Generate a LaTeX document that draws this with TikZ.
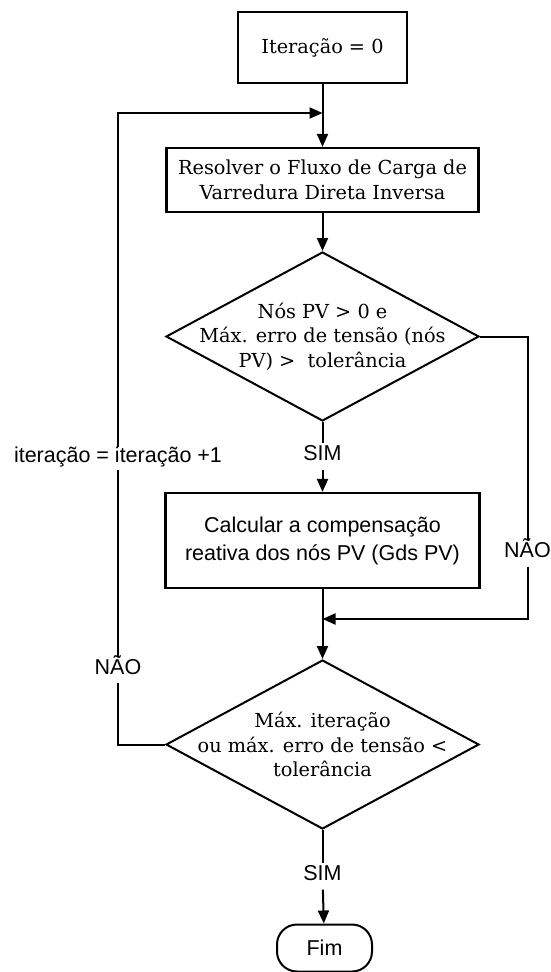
\documentclass[tikz,border=0pt]{standalone}
\usepackage{fontspec}
\setmainfont{DejaVu Serif}
\newfontfamily\lblfont{Liberation Sans}
\usetikzlibrary{shapes.geometric,arrows.meta}

\begin{document}
\begin{tikzpicture}[x=1pt,y=-1pt,
    serif/.style={font=\fontsize{19.3}{24.5}\selectfont},
    sans/.style={font=\lblfont\fontsize{21.5}{28}\selectfont},
    box/.style={draw,rectangle,line width=2.2pt,align=center,serif},
    decision/.style={draw,diamond,line width=2pt,inner sep=0pt,
      minimum width=313pt,minimum height=169pt},
    dectext/.style={align=center,serif},
    lbl/.style={sans,inner sep=3pt,text height=14pt,text depth=6pt},
    arr/.style={-{Triangle[length=13pt,width=11pt]}}]
      \useasboundingbox (0,0) rectangle (551,972);
      \path
        (322.5,47.5) node[box,minimum width=169pt,minimum height=71pt] (init){Iteração = 0}
        (322.5,180) node[box,minimum width=312pt,minimum height=64pt] (solve)
          {Resolver o Fluxo de Carga de\\Varredura Direta Inversa}
        (322.5,336.5) node[decision,label={[dectext]center:{Nós PV > 0 e\\Máx. erro de tensão (nós\\PV) >\ \ tolerância}}] (dec1){}
        (322.5,456.5) node[lbl] (sim1){SIM}
        (322.5,540.5) node[box,sans,minimum width=314pt,minimum height=95pt] (calc)
          {Calcular a compensação\\reativa dos nós PV (Gds PV)}
        (322.5,744.5) node[decision,label={[dectext]center:{Máx. iteração\\ou máx. erro de tensão <\\tolerância}}] (dec2){}
        (322.5,876.5) node[lbl] (sim2){SIM}
        (324.5,948) node[draw,rectangle,rounded corners=20pt,line width=2pt,sans,
          minimum width=95pt,minimum height=47pt] (fim){Fim}
        (527.5,553.5) node[lbl,inner xsep=0pt] (nao1){NÃO}
        (118,670) node[lbl] (nao2){NÃO}
        (118,458.5) node[lbl,inner sep=1pt] (iter){iteração = iteração +1};
      \coordinate (loopin) at (322.5,113);
      \coordinate (join) at (322.5,619);
      \begin{scope}[line width=2pt]
        \draw[arr] (init) to (solve);
        \draw[arr] (solve) to (dec1);
        \draw (dec1) to (sim1);
        \draw[arr] (sim1) to (calc);
        \draw[arr] (calc) to (dec2);
        \draw (dec1.east) -| (nao1);
        \draw[arr] (nao1) |- (join);
        \draw (dec2) to (sim2);
        \draw[arr] (sim2) to (fim);
        \draw (dec2.west) -| (nao2);
        \draw (nao2) to (iter);
        \draw[arr] (iter) |- (loopin);
      \end{scope}
    \end{tikzpicture}
\end{document}
